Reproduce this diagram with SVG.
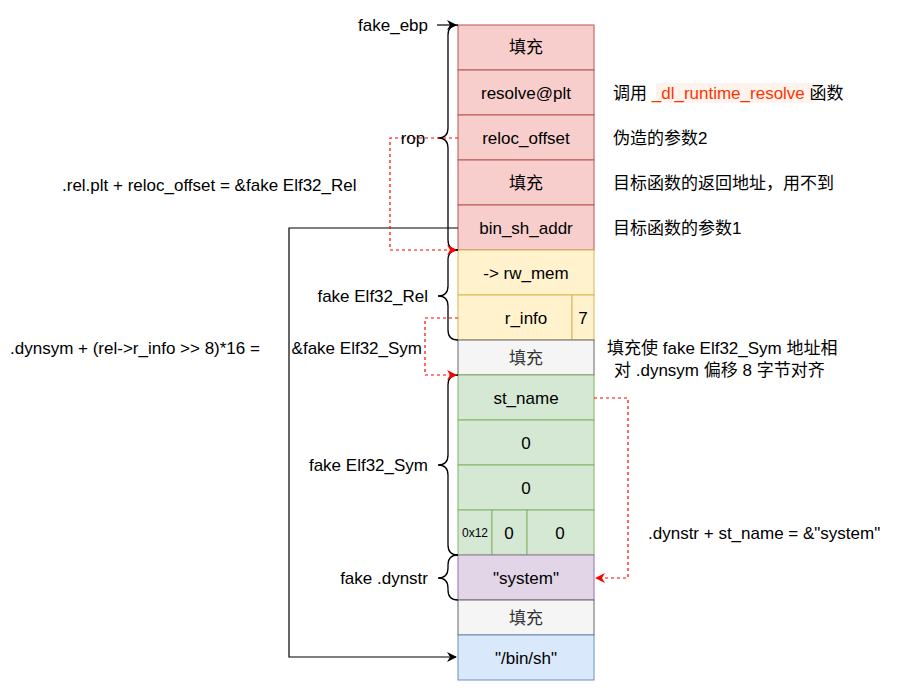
<svg xmlns="http://www.w3.org/2000/svg" width="901" height="693" viewBox="0 0 901 693">
<defs>
<style>
text{font-family:"Liberation Sans","Noto Sans CJK SC",sans-serif;font-size:17px;fill:#000}
.c{text-anchor:middle;dominant-baseline:central}
.l{dominant-baseline:central}
.r{text-anchor:end;dominant-baseline:central}
.red{fill:#f8cecc;stroke:#b85450}
.yel{fill:#fff2cc;stroke:#d6b656}
.gry{fill:#f5f5f5;stroke:#666}
.grn{fill:#d5e8d4;stroke:#82b366}
.pur{fill:#e1d5e7;stroke:#9673a6}
.blu{fill:#dae8fc;stroke:#6c8ebf}
.br{fill:none;stroke:#000;stroke-width:1.3}
.dash{fill:none;stroke:#f00;stroke-dasharray:3 3;stroke-width:1.2}
.blk{fill:none;stroke:#000;stroke-width:1.2}
</style>
<marker id="ar" markerWidth="10" markerHeight="10" refX="9" refY="5" orient="auto" markerUnits="userSpaceOnUse"><path d="M0,0 L10,5 L0,10 L3,5 Z" fill="#000"/></marker>
<marker id="arr" markerWidth="10" markerHeight="10" refX="9" refY="5" orient="auto" markerUnits="userSpaceOnUse"><path d="M0,0 L10,5 L0,10 L3,5 Z" fill="#f00"/></marker>
</defs>
<g id="stack">
<g id="n1"><rect class="red" x="458" y="25" width="136" height="45"/><text class="c" x="526" y="47">填充</text></g>
<g id="n2"><rect class="red" x="458" y="70" width="136" height="45"/><text class="c" x="526" y="93">resolve@plt</text></g>
<g id="n3"><rect class="red" x="458" y="115" width="136" height="45"/><text class="c" x="526" y="138">reloc_offset</text></g>
<g id="n4"><rect class="red" x="458" y="160" width="136" height="45"/><text class="c" x="526" y="183">填充</text></g>
<g id="n5"><rect class="red" x="458" y="205" width="136" height="45"/><text class="c" x="526" y="228">bin_sh_addr</text></g>
<g id="n6"><rect class="yel" x="458" y="250" width="136" height="45"/><text class="c" x="526" y="273">-&gt; rw_mem</text></g>
<g id="n7"><rect class="yel" x="458" y="295" width="114" height="45"/><text class="c" x="526" y="318">r_info</text><rect class="yel" x="572" y="295" width="22" height="45"/><text class="c" x="583" y="318">7</text></g>
<g id="n8"><rect class="gry" x="458" y="340" width="136" height="35"/><text class="c" x="526" y="358" style="fill:#333">填充</text></g>
<g id="n9"><rect class="grn" x="458" y="375" width="136" height="45"/><text class="c" x="526" y="398">st_name</text></g>
<g id="n10"><rect class="grn" x="458" y="420" width="136" height="45"/><text class="c" x="526" y="443">0</text></g>
<g id="n11"><rect class="grn" x="458" y="465" width="136" height="45"/><text class="c" x="526" y="488">0</text></g>
<g id="n12"><rect class="grn" x="458" y="510" width="34" height="45"/><text class="c" x="475" y="533" style="font-size:12px">0x12</text><rect class="grn" x="492" y="510" width="35" height="45"/><text class="c" x="509" y="533">0</text><rect class="grn" x="527" y="510" width="67" height="45"/><text class="c" x="560" y="533">0</text></g>
<g id="n13"><rect class="pur" x="458" y="555" width="136" height="45"/><text class="c" x="526" y="578">"system"</text></g>
<g id="n14"><rect class="gry" x="458" y="600" width="136" height="35"/><text class="c" x="526" y="618" style="fill:#333">填充</text></g>
<g id="n15"><rect class="blu" x="458" y="635" width="136" height="45"/><text class="c" x="526" y="658">"/bin/sh"</text></g>
</g>
<g id="braces">
<path class="br" d="M458,25 q-10,0 -10,10 V128 q0,10 -10,10 q10,0 10,10 V240 q0,10 10,10"/>
<path class="br" d="M458,250 q-10,0 -10,10 V286 q0,10 -10,10 q10,0 10,10 V330 q0,10 10,10"/>
<path class="br" d="M458,375 q-10,0 -10,10 V455 q0,10 -10,10 q10,0 10,10 V545 q0,10 10,10"/>
<path class="br" d="M458,555 q-10,0 -10,10 V568 q0,10 -10,10 q10,0 10,10 V590 q0,10 10,10"/>
</g>
<g id="connectors">
<path class="blk" d="M437,25 H456" marker-end="url(#ar)"/>
<path class="blk" d="M458,228 H289 V657 H456" marker-end="url(#ar)"/>
<path class="dash" d="M458,138 H390 V250 H456" marker-end="url(#arr)"/>
<path class="dash" d="M458,318 H425 V375 H456" marker-end="url(#arr)"/>
<path class="dash" d="M594,398 H628 V578 H596" marker-end="url(#arr)"/>
</g>
<g id="labels">
<text class="r" x="428" y="25">fake_ebp</text>
<text class="c" x="413" y="138">rop</text>
<text class="r" x="428" y="296">fake Elf32_Rel</text>
<text class="r" x="428" y="465">fake Elf32_Sym</text>
<text class="r" x="428" y="578">fake .dynstr</text>
<text class="l" x="62" y="185">.rel.plt + reloc_offset = &amp;fake Elf32_Rel</text>
<text class="l" x="10" y="348">.dynsym + (rel-&gt;r_info &gt;&gt; 8)*16 =</text>
<text class="r" x="422" y="348">&amp;fake Elf32_Sym</text>
<rect x="656" y="83" width="160" height="20" fill="#fff3ee"/>
<text class="l" x="613" y="93">调用 <tspan style="fill:#ff3300">_dl_runtime_resolve</tspan> 函数</text>
<text class="l" x="613" y="138">伪造的参数2</text>
<text class="l" x="613" y="183">目标函数的返回地址，用不到</text>
<text class="l" x="613" y="228">目标函数的参数1</text>
<text class="l" x="607" y="348">填充使 fake Elf32_Sym 地址相</text>
<text class="l" x="614" y="370">对 .dynsym 偏移 8 字节对齐</text>
<text class="l" x="648" y="533">.dynstr + st_name = &amp;"system"</text>
</g>
</svg>
